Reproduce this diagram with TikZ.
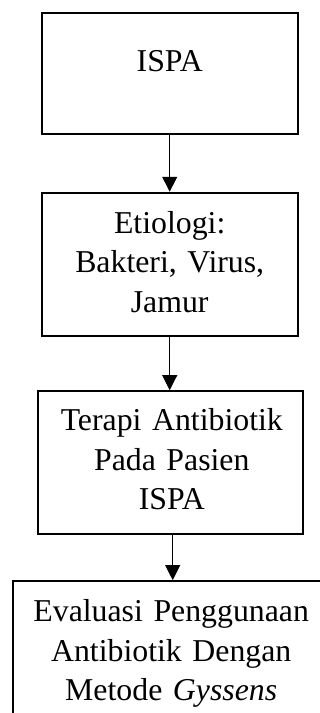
\documentclass[tikz,border=0pt]{standalone}
\usepackage{fontspec}
\setmainfont{Liberation Serif}
\usetikzlibrary{arrows.meta}

\begin{document}
\begin{tikzpicture}[
    x=1pt, y=-1pt,
    box_node/.style={draw, line width=1.8pt, rectangle, inner sep=0pt},
    box_text/.style={anchor=base, inner sep=0pt, text width=300pt, align=center,
        font=\fontsize{31.8}{39.5}\selectfont},
    flow_arrow/.style={line width=0.9pt, -{Triangle[length=15pt, width=15pt]}}
]
\useasboundingbox (0,0) rectangle (320,713);

% --- Boxes ---
\node[box_node, minimum width=256pt, minimum height=121.6pt] (ispa) at (169.7, 73.5) {};
\node[box_node, minimum width=256pt, minimum height=143.3pt] (etiologi) at (169.7, 264.3) {};
\node[box_node, minimum width=265pt, minimum height=143.3pt] (terapi) at (170.8, 462.7) {};
\node[box_node, minimum width=318.8pt, minimum height=179pt] (evaluasi) at (172.7, 670.5) {};

% --- Texts ---
\node[box_text] (ispa_text) at ([yshift=-60pt]ispa.north) {ISPA};
\node[box_text] (etiologi_text) at ([yshift=-41.3pt]etiologi.north) {Etiologi:\\ Bakteri, Virus,\\ Jamur};
\node[box_text] (terapi_text) at ([xshift=1pt, yshift=-40.7pt]terapi.north) {Terapi Antibiotik\\ Pada Pasien\\ ISPA};
\node[box_text] (evaluasi_text) at ([xshift=-1.5pt, yshift=-41.7pt]evaluasi.north) {Evaluasi Penggunaan\\ Antibiotik Dengan\\ Metode \textit{Gyssens}};

% --- Arrows ---
\draw[flow_arrow] (ispa.south) -- (etiologi.north);
\draw[flow_arrow] (etiologi.south) -- (etiologi.south |- terapi.north);
\draw[flow_arrow] (terapi.south -| evaluasi.north) -- (evaluasi.north);

\end{tikzpicture}
\end{document}
